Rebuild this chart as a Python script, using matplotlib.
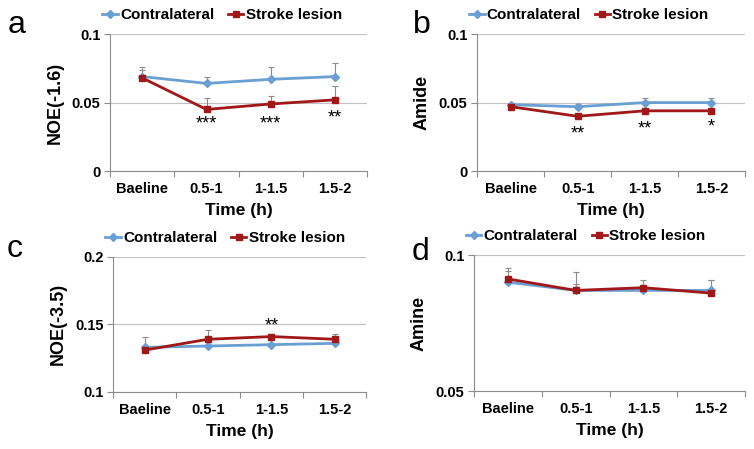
import numpy as np
import matplotlib
matplotlib.use("Agg")
import matplotlib.pyplot as plt

plt.rcParams['font.family'] = ['Liberation Sans', 'DejaVu Sans']

categorias = ["Baeline", "0.5-1", "1-1.5", "1.5-2"]
series_nombres = ["Contralateral", "Stroke lesion"]

# panel a: NOE(-1.6)
a_contra = [0.069, 0.064, 0.067, 0.069]
a_contra_err = [0.007, 0.005, 0.009, 0.010]
a_stroke = [0.068, 0.045, 0.049, 0.052]
a_stroke_err = [0.006, 0.008, 0.006, 0.010]
a_stars = ["", "***", "***", "**"]
a_star_y = [0, 0.0345, 0.0345, 0.039]

# panel b: Amide
b_contra = [0.0485, 0.047, 0.050, 0.050]
b_contra_err = [0.0015, 0.002, 0.003, 0.0035]
b_stroke = [0.047, 0.040, 0.044, 0.044]
b_stroke_err = [0.001, 0.001, 0.001, 0.001]
b_stars = ["", "**", "**", "*"]
b_star_y = [0, 0.027, 0.0305, 0.032]

# panel c: NOE(-3.5)
c_contra = [0.133, 0.134, 0.135, 0.136]
c_contra_err = [0.008, 0.001, 0.001, 0.001]
c_stroke = [0.131, 0.139, 0.141, 0.139]
c_stroke_err = [0.001, 0.007, 0.002, 0.004]
c_stars = ["", "", "**", ""]
c_star_y = [0, 0, 0.1485, 0]

# panel d: Amine
d_contra = [0.090, 0.087, 0.087, 0.087]
d_contra_err = [0.004, 0.0067, 0.001, 0.004]
d_stroke = [0.0912, 0.087, 0.088, 0.086]
d_stroke_err = [0.004, 0.0025, 0.003, 0.005]
d_stars = ["", "", "", ""]
d_star_y = [0, 0, 0, 0]

AZUL = "#6a9fd4"
ROJO = "#a01818"
GRIS = "#8c8c8c"


def panel(fig, pos, ylabel, contra, contra_err, stroke, stroke_err,
          stars, star_y, ylim, yticks, yticklabels):
    ax = fig.add_axes(pos)
    x = np.arange(len(categorias))
    ax.errorbar(x, contra, yerr=[np.zeros(len(x)), contra_err], fmt='none',
                ecolor=GRIS, elinewidth=0.8, capsize=2, capthick=0.8, zorder=2)
    ax.errorbar(x, stroke, yerr=[np.zeros(len(x)), stroke_err], fmt='none',
                ecolor=GRIS, elinewidth=0.8, capsize=2, capthick=0.8, zorder=2)
    ax.plot(x, contra, color=AZUL, lw=2, marker='D', ms=4, label=series_nombres[0], zorder=3)
    ax.plot(x, stroke, color=ROJO, lw=2, marker='s', ms=4.5, label=series_nombres[1], zorder=4)

    for xi, s, sy in zip(x, stars, star_y):
        if s:
            ax.text(xi, sy, s, ha='center', va='center', fontsize=13, color='black')

    ax.set_xlim(-0.5, len(categorias) - 0.5)
    ax.set_ylim(*ylim)
    ax.set_yticks(yticks)
    ax.set_yticklabels(yticklabels, fontsize=10.5, fontweight='bold')
    ax.set_xticks(x)
    ax.set_xticklabels(categorias, fontsize=10.5, fontweight='bold')
    ax.set_xticks(np.arange(-0.5, len(categorias)), minor=True)
    ax.tick_params(axis='x', which='major', length=0, pad=8)
    ax.tick_params(axis='x', which='minor', length=4, color=GRIS, width=0.8)
    ax.tick_params(axis='y', length=4, color=GRIS, width=0.8, pad=3)
    ax.grid(axis='y', color='#c0c0c0', lw=0.8)
    ax.set_axisbelow(True)
    for lado in ['top', 'right']:
        ax.spines[lado].set_visible(False)
    for lado in ['left', 'bottom']:
        ax.spines[lado].set_color(GRIS)
        ax.spines[lado].set_linewidth(0.8)

    ax.set_xlabel("Time (h)", fontsize=12.5, fontweight='bold', labelpad=5)
    ax.set_ylabel(ylabel, fontsize=13, fontweight='bold', labelpad=6)

    ax.legend(loc='center left', bbox_to_anchor=(-0.03, 1.14), ncol=2, frameon=False,
              handlelength=1.0, handletextpad=0.15, columnspacing=0.9,
              borderaxespad=0, borderpad=0, prop={'weight': 'bold', 'size': 11})
    return ax


fig = plt.figure(figsize=(7.54, 4.49), dpi=100)

panel(fig, [0.146, 0.619, 0.341, 0.305], "NOE(-1.6)",
      a_contra, a_contra_err, a_stroke, a_stroke_err, a_stars, a_star_y,
      (0, 0.1), [0, 0.05, 0.1], ["0", "0.05", "0.1"])
panel(fig, [0.633, 0.619, 0.355, 0.305], "Amide",
      b_contra, b_contra_err, b_stroke, b_stroke_err, b_stars, b_star_y,
      (0, 0.1), [0, 0.05, 0.1], ["0", "0.05", "0.1"])
panel(fig, [0.150, 0.127, 0.336, 0.301], "NOE(-3.5)",
      c_contra, c_contra_err, c_stroke, c_stroke_err, c_stars, c_star_y,
      (0.1, 0.2), [0.1, 0.15, 0.2], ["0.1", "0.15", "0.2"])
panel(fig, [0.629, 0.129, 0.359, 0.303], "Amine",
      d_contra, d_contra_err, d_stroke, d_stroke_err, d_stars, d_star_y,
      (0.05, 0.1), [0.05, 0.1], ["0.05", "0.1"])

# letras de los paneles
fig.text(0.010, 0.9265, "a", fontsize=23, ha='left', va='baseline')
fig.text(0.548, 0.9265, "b", fontsize=23, ha='left', va='baseline')
fig.text(0.009, 0.4276, "c", fontsize=23, ha='left', va='baseline')
fig.text(0.546, 0.421, "d", fontsize=23, ha='left', va='baseline')

fig.savefig("out.png", dpi=100)
